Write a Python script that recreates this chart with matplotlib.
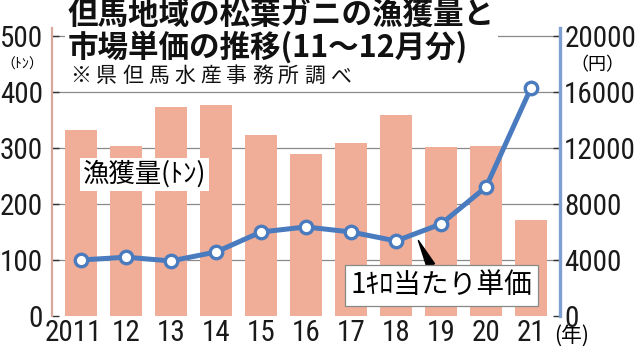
import matplotlib
matplotlib.use("Agg")
import matplotlib.pyplot as plt
from matplotlib import font_manager
from matplotlib.transforms import ScaledTranslation

# data
years = ['2011', '12', '13', '14', '15', '16', '17', '18', '19', '20', '21']
catch_t = [332, 304, 373, 377, 323, 289, 309, 359, 302, 304, 171]
price_yen = [4000, 4200, 3930, 4570, 6000, 6360, 6000, 5360, 6570, 9210, 16290]
left_ticks = [0, 100, 200, 300, 400, 500]
right_ticks = [0, 4000, 8000, 12000, 16000, 20000]

jp = ['Noto Sans CJK JP', 'DejaVu Sans']

# look for a narrow face for the numbers
narrow = None
cands = []
for f in font_manager.fontManager.ttflist:
    nm = f.name + ' ' + f.fname
    if f.weight not in (400, 'normal', 'regular'):
        continue
    if 'Italic' in f.fname or f.style != 'normal':
        continue
    if 'Narrow' in nm or 'Condensed' in nm or f.stretch in ('condensed', 'semi-condensed'):
        cands.append(f)
order = ['Liberation Sans Narrow', 'Roboto Condensed', 'Open Sans Condensed',
         'Noto Sans', 'DejaVu Sans', 'Roboto', 'Open Sans']
for want in order:
    hit = [f for f in cands if f.name == want and 'Semi' not in f.fname and 'Extra' not in f.fname]
    if hit:
        narrow = hit[0]
        break
if narrow is None and cands:
    narrow = cands[0]
if narrow is not None:
    num_prop = font_manager.FontProperties(fname=narrow.fname, size=21)
else:
    num_prop = font_manager.FontProperties(family='DejaVu Sans', size=16)

bar_col = '#F0AE98'
line_col = '#4A7BBF'

fig = plt.figure(figsize=(6.4, 3.49), dpi=100)
ax = fig.add_axes([0.08125, 0.0946, 0.79375, 0.8252])
ax2 = ax.twinx()

x = range(len(years))
ax.bar(x, catch_t, width=0.71, color=bar_col, zorder=2)
ax.hlines(left_ticks[1:], -0.644, 10.644, color='#8a8a8a', lw=0.9, zorder=1)

ax2.plot(x, price_yen, color=line_col, lw=3.6, marker='o', ms=9,
         mfc='white', mec=line_col, mew=2.4, zorder=3)

ax.set_xlim(-0.644, 10.644)
ax.set_ylim(0, 514)
ax2.set_ylim(0, 20571)

ax.set_yticks(left_ticks)
ax2.set_yticks(right_ticks)
ax.set_xticks(list(x))
ax.set_xticklabels(years)

for a in (ax, ax2):
    a.spines['top'].set_visible(False)
    a.spines['bottom'].set_visible(False)
ax.spines['right'].set_visible(False)
ax2.spines['left'].set_visible(False)
ax.spines['left'].set_color('#D9A89C')
ax.spines['left'].set_linewidth(1.6)
ax2.spines['right'].set_color('#7E9FD1')
ax2.spines['right'].set_linewidth(2.4)

ax.tick_params(axis='y', direction='in', length=5, width=1, color='#333333', pad=6.5)
ax2.tick_params(axis='y', direction='in', length=5, width=1, color='#333333', pad=3)
ax.tick_params(axis='x', length=0, pad=2)
for lab in ax.get_yticklabels() + ax2.get_yticklabels() + ax.get_xticklabels():
    lab.set_fontproperties(num_prop)
    lab.set_color('#1a1a1a')
first = ax.get_xticklabels()[0]
first.set_transform(first.get_transform() + ScaledTranslation(-0.08, 0, fig.dpi_scale_trans))

# title block
fig.text(68 / 640, 1 - 31 / 349, '但馬地域の松葉ガニの漁獲量と\n市場単価の推移(11～12月分)',
         family=jp, fontsize=22, fontweight='bold', color='#111111',
         ha='left', va='center', linespacing=1.0,
         bbox=dict(facecolor='white', edgecolor='none', pad=2))
sub = '※県但馬水産事務所調べ'
for i, ch in enumerate(sub):
    fig.text((70 + 26 * i) / 640, 1 - 76 / 349, ch, family=jp, fontsize=15,
             color='#111111', ha='left', va='center')

# axis units
fig.text(22 / 640, 1 - 65 / 349, '（ﾄﾝ）', family=jp, fontsize=10, ha='center', va='center')
fig.text(597 / 640, 1 - 65 / 349, '（円）', family=jp, fontsize=13, ha='center', va='center')
fig.text(572 / 640, 1 - 336 / 349, '(年)', family=jp, fontsize=15, ha='center', va='center')

# series labels
ax.text(1.41, 253, '漁獲量(ﾄﾝ)', family=jp, fontsize=19, ha='center', va='center',
        zorder=5, bbox=dict(facecolor='white', edgecolor='none', pad=2))
ax2.annotate('', xy=(7.47, 5570), xytext=(7.8, 3430),
             arrowprops=dict(arrowstyle='wedge,tail_width=0.6', color='black'), zorder=4)
ax2.text(8.0, 2180, '1ｷﾛ当たり単価', family=jp, fontsize=20, ha='center', va='center',
         zorder=5, bbox=dict(facecolor='white', edgecolor='#888888', lw=0.9,
                             boxstyle='square,pad=0.2'))

fig.savefig('out.png', dpi=100)
